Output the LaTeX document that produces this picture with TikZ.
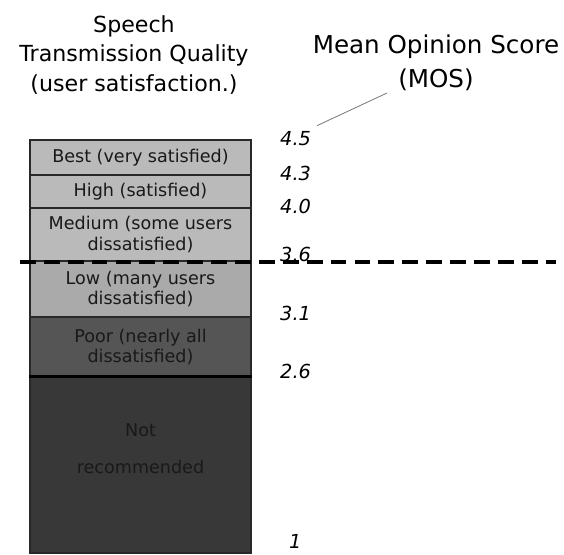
\documentclass[tikz,border=0pt]{standalone}
\usepackage{fontspec}
\setmainfont{DejaVu Sans}
\usepackage{tikz}
\usetikzlibrary{positioning}
\definecolor{bandlight}{RGB}{186,186,186}
\definecolor{bandlow}{RGB}{170,170,170}
\definecolor{bandpoor}{RGB}{85,85,85}
\definecolor{banddark}{RGB}{56,56,56}
\definecolor{edgegray}{RGB}{40,40,40}
\definecolor{inkdark}{RGB}{25,25,25}

\begin{document}
\begin{tikzpicture}[x=0.02cm, y=-0.02cm,
    band/.style={rectangle, draw=edgegray, line width=0.6pt, minimum width=4.42cm, inner sep=0pt, align=center, text=inkdark, font=\fontsize{10}{11.5}\selectfont},
    title/.style={align=center, font=\fontsize{14}{17}\selectfont},
    score/.style={anchor=west, font=\fontsize{11}{12}\selectfont\itshape}
]
\useasboundingbox (0,0) rectangle (564,554);

% Headings
\node[title, font=\fontsize{12.6}{17}\selectfont] (stq) at (134,55) {Speech\\Transmission Quality\\(user satisfaction.)};
\node[title, font=\fontsize{14}{19.5}\selectfont] (mos) at (436,63) {Mean Opinion Score\\(MOS)};
\node[title, anchor=east] (cut) at (7,143) {)};
\coordinate (mosfoot) at (387,93);

% Quality bands
\node[band, fill=bandlight, minimum height=0.7cm] (best) at (140.5,157.5) {Best (very satisfied)};
\node[band, fill=bandlight, minimum height=0.66cm] (high) at (140.5,191.5) {High (satisfied)};
\node[band, fill=bandlight, minimum height=1.06cm] (medium) at (140.5,234.5) {Medium (some users\\dissatisfied)};
\node[band, fill=bandlow, minimum height=1.12cm] (low) at (140.5,289) {Low (many users\\dissatisfied)};
\node[band, fill=bandpoor, minimum height=1.2cm] (poor) at (140.5,347) {Poor (nearly all\\dissatisfied)};
\node[band, fill=banddark, minimum height=3.52cm] (notrec) at (140.5,465) {};
\node[band, draw=none, font=\fontsize{10}{21}\selectfont] (notrectext) at (140.5,449) {Not\\recommended};
\draw[black, line width=1.4pt] (notrec.north west) -- (notrec.north east);

% MOS values
\node[score] (v45) at (274,139) {4.5};
\node[score] (v43) at (274,173) {4.3};
\node[score] (v40) at (274,206) {4.0};
\node[score] (v36) at (274,254) {3.6};
\node[score] (v31) at (274,313) {3.1};
\node[score] (v26) at (274,371) {2.6};
\node[score] (v1) at (283,541) {1};

% Threshold line and pointer
\draw[line width=2.2pt, dash pattern=on 9pt off 4.6pt] (20,262) -- (556,262);
\draw[gray, line width=0.5pt] (mosfoot) -- (v45.north east);

\end{tikzpicture}
\end{document}
